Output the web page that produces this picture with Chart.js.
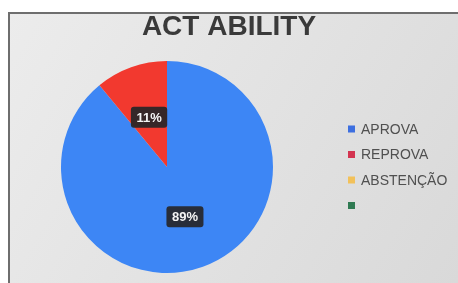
<!DOCTYPE html>
<html>
<head>
<meta charset="utf-8">
<script src="https://cdn.jsdelivr.net/npm/chart.js@4"></script>
<style>
html,body{margin:0;padding:0;background:#fff;}
canvas{display:block;}
</style>
</head>
<body>
<canvas id="c" width="458" height="283"></canvas>
<script>
const titleText = 'ACT ABILITY';
const categories = ['APROVA', 'REPROVA', 'ABSTENÇÃO', ''];
const values = [89, 11, 0, 0];
const sliceColors = ['#3d86f5', '#f2392f', '#f6c04a', '#2e7d50'];
const legendColors = ['#3d6fe0', '#d33450', '#f2c15a', '#2f7a52'];

const deco = {
  id: 'deco',
  beforeDraw(chart) {
    const ctx = chart.ctx;
    ctx.save();
    ctx.fillStyle = '#ffffff';
    ctx.fillRect(0, 0, 458, 283);
    const g = ctx.createLinearGradient(8, 13, 458, 283);
    g.addColorStop(0, '#ececec');
    g.addColorStop(1, '#d9d9d9');
    ctx.fillStyle = g;
    ctx.fillRect(8, 12, 450, 271);
    ctx.fillStyle = '#6e6e6e';
    ctx.fillRect(8, 12, 450, 2);
    ctx.fillRect(8, 12, 2, 271);
    ctx.restore();
  },
  afterDraw(chart) {
    const ctx = chart.ctx;
    ctx.save();
    // title
    ctx.fillStyle = '#3a3a3a';
    ctx.font = 'bold 28px "Liberation Sans", Arial, sans-serif';
    ctx.textAlign = 'center';
    ctx.textBaseline = 'alphabetic';
    ctx.fillText(titleText, 229, 35);
    // slice labels
    const meta = chart.getDatasetMeta(0);
    const total = values.reduce((a, b) => a + b, 0);
    ctx.font = 'bold 13px "Liberation Sans", Arial, sans-serif';
    ctx.textBaseline = 'middle';
    meta.data.forEach((arc, i) => {
      const v = values[i];
      if (!v) return;
      const p = arc.tooltipPosition();
      const txt = Math.round(v / total * 100) + '%';
      const w = ctx.measureText(txt).width + 11;
      const h = 21;
      ctx.fillStyle = 'rgba(38,38,40,0.92)';
      ctx.beginPath();
      ctx.roundRect(p.x - w / 2, p.y - h / 2, w, h, 3);
      ctx.fill();
      ctx.fillStyle = '#f4f4f4';
      ctx.textAlign = 'center';
      ctx.fillText(txt, p.x, p.y + 1);
    });
    // legend
    ctx.font = '14px "Liberation Sans", Arial, sans-serif';
    ctx.textAlign = 'left';
    categories.forEach((lab, i) => {
      const y = 129 + i * 25.5;
      ctx.fillStyle = legendColors[i];
      ctx.fillRect(348, y - 3.5, 7, 7);
      ctx.fillStyle = '#505050';
      ctx.fillText(lab, 361, y + 1);
    });
    ctx.restore();
  }
};

new Chart(document.getElementById('c'), {
  type: 'pie',
  data: {
    labels: categories,
    datasets: [{
      data: values,
      backgroundColor: sliceColors,
      borderWidth: 0
    }]
  },
  options: {
    responsive: false,
    animation: false,
    layout: { padding: { left: 61, right: 185, top: 61, bottom: 10 } },
    plugins: {
      legend: { display: false },
      title: { display: false },
      tooltip: { enabled: false }
    }
  },
  plugins: [deco]
});
</script>
</body>
</html>
